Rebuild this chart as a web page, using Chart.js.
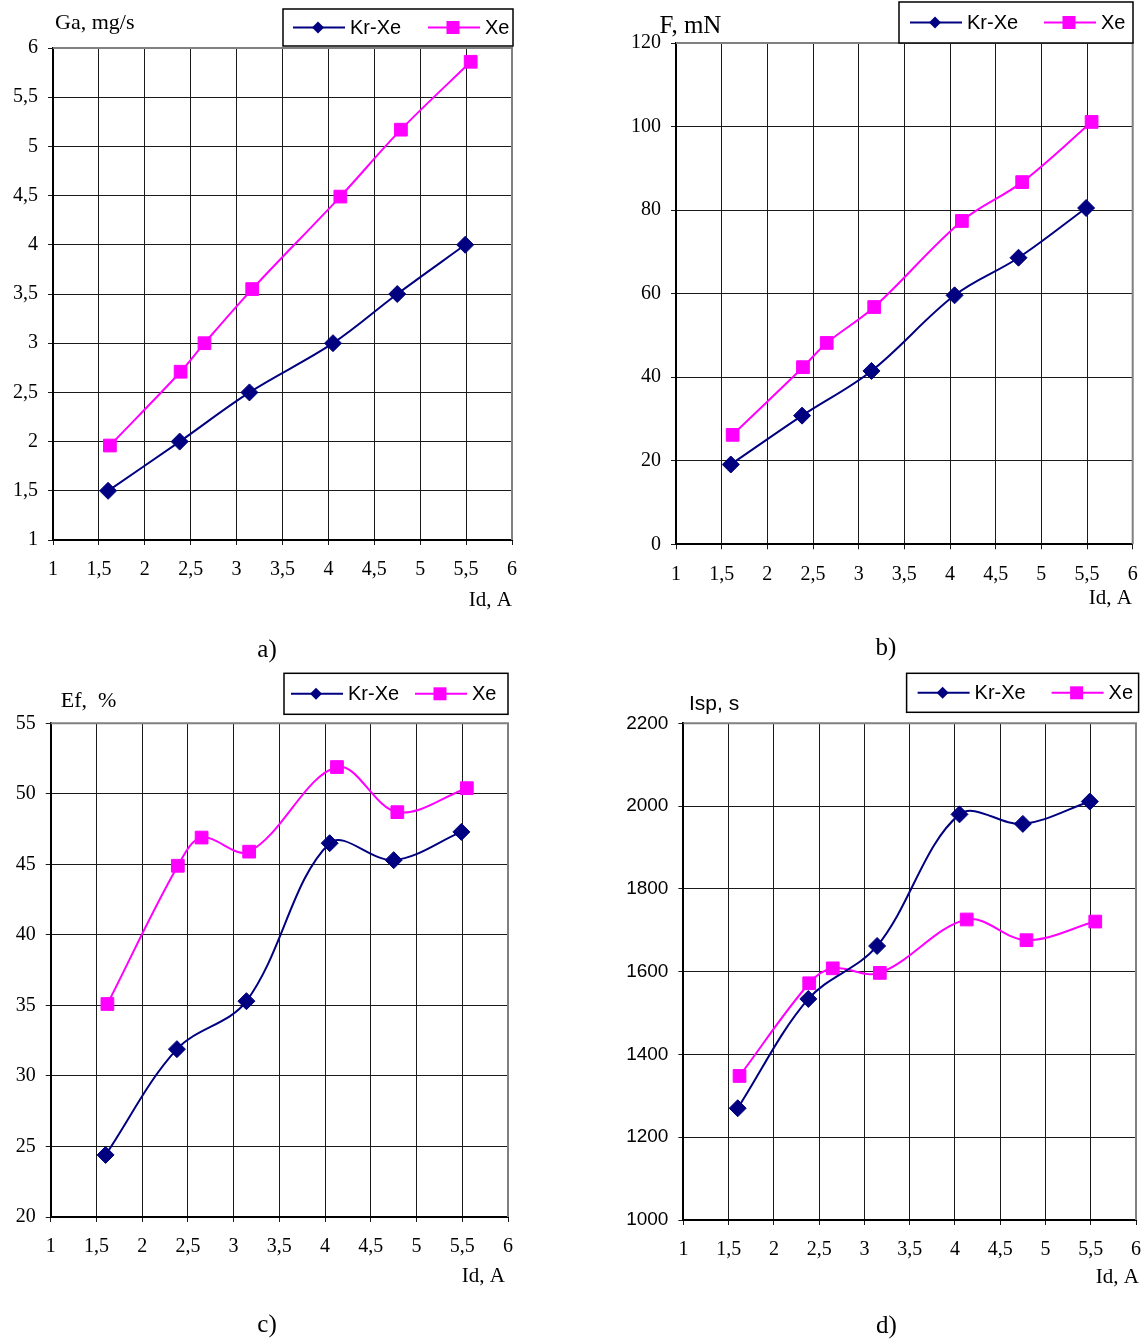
<!DOCTYPE html>
<html>
<head>
<meta charset="utf-8">
<script src="https://cdn.jsdelivr.net/npm/chart.js@4.4.1/dist/chart.umd.min.js"></script>
<style>
  body { margin: 0; background: #fff; }
  #page { position: relative; width: 1146px; height: 1343px; }
  canvas { position: absolute; }
</style>
</head>
<body>
<div id="page">
  <canvas id="chartA" width="573" height="671" style="left:0;top:0"></canvas>
  <canvas id="chartB" width="573" height="671" style="left:573px;top:0"></canvas>
  <canvas id="chartC" width="573" height="672" style="left:0;top:671px"></canvas>
  <canvas id="chartD" width="573" height="672" style="left:573px;top:671px"></canvas>
</div>
<script>
// discharge current Id, A (same operating points on all four plots)
const krXeCurrent = [1.60, 2.38, 3.14, 4.05, 4.75, 5.49];
const xeCurrent = [1.62, 2.39, 2.65, 3.17, 4.13, 4.79, 5.55];

// a) anode mass flow, mg/s
const flowKrXe = [1.5, 2.0, 2.5, 3.0, 3.5, 4.0];
const flowXe = [1.96, 2.71, 3.0, 3.55, 4.49, 5.17, 5.86];

// b) thrust, mN
const thrustKrXe = [19.1, 30.8, 41.5, 59.6, 68.6, 80.5];
const thrustXe = [26.2, 42.4, 48.2, 56.8, 77.4, 86.7, 101.1];

// c) efficiency, %
const effKrXe = [24.4, 31.9, 35.3, 46.5, 45.3, 47.3];
const effXe = [35.1, 44.9, 46.9, 45.9, 51.9, 48.7, 50.4];

// d) specific impulse, s
const ispKrXe = [1270, 1534, 1662, 1980, 1957, 2011];
const ispXe = [1348, 1572, 1608, 1597, 1726, 1676, 1721];

const seriesNames = ["Kr-Xe", "Xe"];
const navy = "#000080";
const magenta = "#FF00FF";
const serif = "Liberation Serif";
const sans = "Liberation Sans";

const pts = (xs, ys) => xs.map((x, i) => ({ x: x, y: ys[i] }));
const comma = v => String(v).replace(".", ",");

// frame, titles, caption and the Excel style legend box
const decorations = {
    id: "decorations",
    beforeDatasetsDraw(chart, args, o) {
        const { ctx, chartArea: a } = chart;
        ctx.save();
        ctx.strokeStyle = "#808080";
        ctx.lineWidth = 2;
        ctx.beginPath();
        ctx.moveTo(a.left, a.top);
        ctx.lineTo(a.right, a.top);
        ctx.lineTo(a.right, a.bottom);
        ctx.stroke();
        ctx.restore();
    },
    afterDraw(chart, args, o) {
        const ctx = chart.ctx;
        ctx.save();
        ctx.fillStyle = "#000";
        ctx.textBaseline = "alphabetic";

        ctx.font = o.yTitle.font;
        ctx.textAlign = "left";
        ctx.fillText(o.yTitle.text, o.yTitle.x, o.yTitle.y);

        ctx.font = "21px " + serif;
        ctx.textAlign = "right";
        ctx.fillText("Id, A", o.xTitle.x, o.xTitle.y);

        ctx.font = "25px " + serif;
        ctx.textAlign = "center";
        ctx.fillText(o.caption.text, o.caption.x, o.caption.y);

        // legend
        const L = o.legend;
        ctx.fillStyle = "#fff";
        ctx.fillRect(L.x, L.y, L.w, L.h);
        ctx.strokeStyle = "#000";
        ctx.lineWidth = 1.5;
        ctx.strokeRect(L.x, L.y, L.w, L.h);
        const cy = L.y + L.h / 2;
        const starts = [L.x + L.a, L.x + L.b];
        ctx.font = "20px " + sans;
        ctx.textAlign = "left";
        ctx.textBaseline = "middle";
        starts.forEach((sx, i) => {
            const col = i === 0 ? navy : magenta;
            ctx.strokeStyle = col;
            ctx.lineWidth = 2;
            ctx.beginPath();
            ctx.moveTo(sx, cy);
            ctx.lineTo(sx + 52, cy);
            ctx.stroke();
            ctx.fillStyle = col;
            const mx = sx + 25;
            ctx.beginPath();
            if (i === 0) {
                ctx.moveTo(mx, cy - 6);
                ctx.lineTo(mx + 6, cy);
                ctx.lineTo(mx, cy + 6);
                ctx.lineTo(mx - 6, cy);
                ctx.closePath();
            } else {
                ctx.rect(mx - 6.5, cy - 6.5, 13, 13);
            }
            ctx.fill();
            ctx.fillStyle = "#000";
            ctx.fillText(seriesNames[i], sx + 57, cy + 1);
        });
        ctx.restore();
    }
};

function makeChart(id, cfg) {
    const canvas = document.getElementById(id);
    const W = canvas.width, H = canvas.height;
    const area = cfg.area;
    return new Chart(canvas, {
        type: "line",
        data: {
            datasets: [
                {
                    label: seriesNames[0],
                    data: pts(krXeCurrent, cfg.krXe),
                    borderColor: navy,
                    backgroundColor: navy,
                    borderWidth: 2,
                    pointStyle: "rectRot",
                    pointRadius: 8.5,
                    pointBorderWidth: 1,
                    tension: 0.35
                },
                {
                    label: seriesNames[1],
                    data: pts(xeCurrent, cfg.xe),
                    borderColor: magenta,
                    backgroundColor: magenta,
                    borderWidth: 2,
                    pointStyle: "rect",
                    pointRadius: 9,
                    pointBorderWidth: 1,
                    tension: 0.35
                }
            ]
        },
        options: {
            responsive: false,
            animation: false,
            devicePixelRatio: 1,
            layout: {
                padding: { left: 0, top: area.top, right: W - area.right, bottom: 0 }
            },
            scales: {
                x: {
                    type: "linear",
                    min: 1,
                    max: 6,
                    ticks: {
                        stepSize: 0.5,
                        color: "#000",
                        font: { family: serif, size: 20 },
                        padding: 13,
                        maxRotation: 0,
                        callback: comma
                    },
                    grid: { color: "#1a1a1a", lineWidth: 1, tickLength: 5 },
                    border: { color: "#000", width: 2 },
                    afterFit(s) {
                        s.height = H - area.bottom;
                        s.paddingLeft = 0;
                        s.paddingRight = 0;
                    }
                },
                y: {
                    min: cfg.yMin,
                    max: cfg.yMax,
                    ticks: {
                        stepSize: cfg.yStep,
                        color: "#000",
                        font: cfg.yFont,
                        padding: 10,
                        callback: comma
                    },
                    grid: { color: "#1a1a1a", lineWidth: 1, tickLength: 5 },
                    border: { color: "#000", width: 2 },
                    afterFit(s) {
                        s.width = area.left;
                        s.paddingTop = 0;
                        s.paddingBottom = 0;
                    }
                }
            },
            plugins: {
                legend: { display: false },
                tooltip: { enabled: false },
                decorations: cfg.deco
            }
        },
        plugins: [decorations]
    });
}

makeChart("chartA", {
    krXe: flowKrXe, xe: flowXe,
    yMin: 1, yMax: 6, yStep: 0.5,
    yFont: { family: serif, size: 20 },
    area: { left: 53, top: 48, right: 512, bottom: 540 },
    deco: {
        yTitle: { text: "Ga, mg/s", font: "22px " + serif, x: 55, y: 29 },
        xTitle: { x: 512, y: 606 },
        caption: { text: "a)", x: 267, y: 657 },
        legend: { x: 283, y: 9, w: 230, h: 37, a: 10, b: 145 }
    }
});

makeChart("chartB", {
    krXe: thrustKrXe, xe: thrustXe,
    yMin: 0, yMax: 120, yStep: 20,
    yFont: { family: serif, size: 20 },
    area: { left: 103, top: 43, right: 559.7, bottom: 544.3 },
    deco: {
        yTitle: { text: "F, mN", font: "25px " + serif, x: 86.5, y: 33 },
        xTitle: { x: 559, y: 604 },
        caption: { text: "b)", x: 313, y: 655 },
        legend: { x: 326, y: 2, w: 234, h: 41, a: 11, b: 145 }
    }
});

makeChart("chartC", {
    krXe: effKrXe, xe: effXe,
    yMin: 20, yMax: 55, yStep: 5,
    yFont: { family: serif, size: 20 },
    area: { left: 50.7, top: 52.3, right: 508, bottom: 546 },
    deco: {
        yTitle: { text: "Ef,  %", font: "22px " + serif, x: 60.7, y: 35.7 },
        xTitle: { x: 505, y: 610.7 },
        caption: { text: "c)", x: 267, y: 660.7 },
        legend: { x: 284, y: 2.3, w: 224, h: 41, a: 7, b: 131 }
    }
});

makeChart("chartD", {
    krXe: ispKrXe, xe: ispXe,
    yMin: 1000, yMax: 2200, yStep: 200,
    yFont: { family: sans, size: 19 },
    area: { left: 110.4, top: 52.3, right: 563.9, bottom: 549 },
    deco: {
        yTitle: { text: "Isp, s", font: "21px " + sans, x: 116, y: 39 },
        xTitle: { x: 566, y: 612.3 },
        caption: { text: "d)", x: 313.5, y: 662 },
        legend: { x: 333.6, y: 2.3, w: 232, h: 39, a: 11, b: 145 }
    }
});
</script>
</body>
</html>
